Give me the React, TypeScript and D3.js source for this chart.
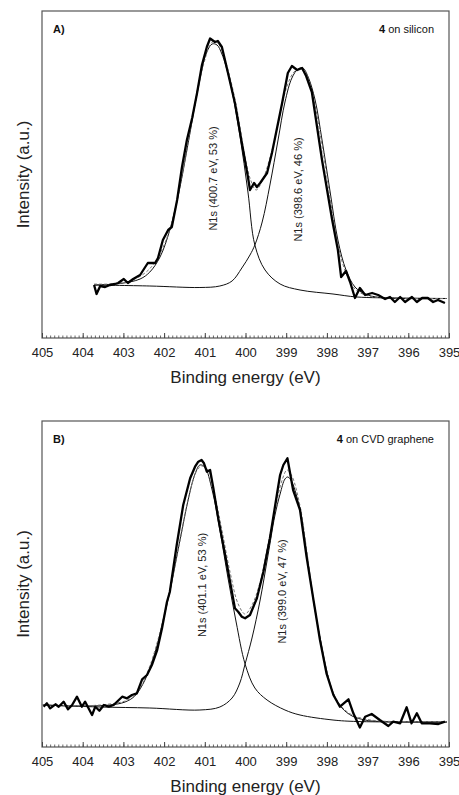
import { useEffect, useRef } from 'react'
import * as d3 from 'd3'

const W = 459
const H = 795

const ENERGY_TICKS = [405, 404, 403, 402, 401, 400, 399, 398, 397, 396, 395]

// Panel A: 4 on silicon  [binding energy eV, intensity counts]
const rawA: [number, number][] = [
  [403.72, 530], [403.66, 440], [403.57, 520], [403.45, 510], [403.33, 530], [403.21, 540],
  [403.13, 550], [402.99, 590], [402.89, 550], [402.76, 590], [402.59, 630], [402.40, 750],
  [402.22, 750], [402.15, 800], [402.03, 980], [401.90, 1080], [401.81, 1110], [401.68, 1380],
  [401.56, 1710], [401.44, 1980], [401.31, 2200], [401.19, 2450], [401.07, 2730], [400.95, 2910],
  [400.87, 2995], [400.75, 2960], [400.68, 2970], [400.58, 2910], [400.43, 2650], [400.26, 2350],
  [400.09, 1950], [399.94, 1610], [399.89, 1480], [399.79, 1550], [399.72, 1510], [399.64, 1550],
  [399.47, 1650], [399.35, 1850], [399.10, 2350], [398.96, 2650], [398.86, 2720], [398.73, 2680],
  [398.61, 2700], [398.51, 2620], [398.37, 2460], [398.12, 1780], [397.87, 1180], [397.73, 880],
  [397.65, 610], [397.53, 670], [397.43, 560], [397.31, 400], [397.19, 500], [397.06, 430],
  [396.89, 450], [396.74, 430], [396.57, 390], [396.45, 410], [396.33, 360], [396.20, 410],
  [396.08, 360], [395.91, 410], [395.79, 360], [395.66, 400], [395.52, 400], [395.39, 360],
  [395.27, 380], [395.10, 350],
]
const fitA1: [number, number][] = [
  [403.72, 530], [403.08, 545], [402.59, 590], [402.35, 660], [402.10, 810], [401.86, 1080],
  [401.61, 1510], [401.36, 2060], [401.12, 2600], [400.95, 2860], [400.82, 2940], [400.70, 2930],
  [400.58, 2840], [400.38, 2560], [400.14, 2030], [399.94, 1460], [399.77, 930], [399.52, 680],
  [399.15, 540], [398.66, 480], [397.85, 440], [397.26, 410], [396.20, 400], [395.05, 395],
]
const fitA2: [number, number][] = [
  [403.72, 530], [402.35, 520], [401.12, 505], [400.63, 520], [400.33, 570], [400.09, 700],
  [399.89, 830], [399.77, 930], [399.59, 1160], [399.40, 1530], [399.20, 1980], [399.03, 2360],
  [398.86, 2600], [398.71, 2690], [398.59, 2700], [398.46, 2610], [398.29, 2380], [398.12, 1980],
  [397.92, 1460], [397.73, 980], [397.53, 680], [397.31, 510], [397.06, 440], [396.70, 405],
  [395.05, 395],
]
const envA: [number, number][] = [
  [403.72, 540], [403.33, 540], [402.84, 570], [402.47, 650], [402.22, 760], [401.98, 950],
  [401.73, 1280], [401.49, 1780], [401.24, 2330], [401.04, 2720], [400.87, 2930], [400.77, 2970],
  [400.63, 2920], [400.43, 2680], [400.23, 2330], [400.04, 1880], [399.89, 1600], [399.74, 1480],
  [399.59, 1570], [399.40, 1800], [399.20, 2130], [399.01, 2480], [398.81, 2660], [398.66, 2690],
  [398.51, 2640], [398.32, 2380], [398.12, 1930], [397.92, 1400], [397.73, 930], [397.53, 650],
  [397.31, 490], [397.06, 430], [396.70, 405], [395.05, 395],
]

// Panel B: 4 on CVD graphene
const rawB: [number, number][] = [
  [404.96, 403], [404.88, 437], [404.80, 387], [404.67, 427], [404.59, 403], [404.47, 453],
  [404.36, 377], [404.26, 420], [404.14, 503], [404.02, 403], [403.94, 453], [403.77, 320],
  [403.69, 403], [403.59, 363], [403.48, 420], [403.36, 403], [403.24, 420], [403.03, 503],
  [402.91, 487], [402.79, 520], [402.67, 537], [402.54, 677], [402.42, 720], [402.30, 820],
  [402.17, 970], [402.05, 1190], [401.93, 1450], [401.86, 1550], [401.69, 2020], [401.53, 2420],
  [401.36, 2687], [401.24, 2803], [401.16, 2853], [401.08, 2870], [401.02, 2837], [400.95, 2753],
  [400.87, 2770], [400.79, 2587], [400.67, 2287], [400.50, 1920], [400.38, 1653], [400.26, 1387],
  [400.18, 1353], [400.09, 1303], [400.01, 1287], [399.89, 1320], [399.72, 1487], [399.56, 1753],
  [399.40, 2087], [399.23, 2520], [399.15, 2720], [399.07, 2820], [398.97, 2887], [398.83, 2570],
  [398.66, 2370], [398.50, 1903], [398.33, 1470], [398.17, 1070], [398.01, 737], [397.84, 520],
  [397.68, 403], [397.47, 477], [397.35, 337], [397.19, 195], [397.06, 303], [396.90, 330],
  [396.70, 270], [396.49, 210], [396.37, 253], [396.20, 237], [396.04, 397], [395.92, 237],
  [395.79, 337], [395.67, 237], [395.47, 237], [395.26, 230], [395.10, 253],
]
const fitB1: [number, number][] = [
  [404.98, 420], [404.07, 410], [403.33, 420], [402.96, 450], [402.72, 510], [402.47, 670],
  [402.22, 950], [402.05, 1220], [401.83, 1610], [401.61, 2070], [401.41, 2470], [401.24, 2730],
  [401.12, 2820], [401.00, 2800], [400.82, 2570], [400.63, 2170], [400.43, 1690], [400.23, 1250],
  [400.01, 830], [399.77, 590], [399.47, 470], [399.03, 370], [398.66, 320], [397.85, 270],
  [397.26, 255], [395.05, 250],
]
const fitB2: [number, number][] = [
  [404.98, 420], [403.57, 400], [402.35, 390], [401.12, 370], [400.63, 400], [400.33, 490],
  [400.14, 640], [400.01, 830], [399.84, 1090], [399.64, 1470], [399.45, 1910], [399.28, 2310],
  [399.15, 2530], [399.03, 2680], [398.96, 2700], [398.86, 2650], [398.66, 2370], [398.49, 1920],
  [398.34, 1490], [398.17, 1090], [398.00, 750], [397.83, 520], [397.63, 390], [397.38, 310],
  [397.06, 270], [396.70, 255], [395.05, 250],
]
const envB: [number, number][] = [
  [404.98, 420], [403.57, 420], [402.84, 480], [402.59, 590], [402.35, 810], [402.10, 1150],
  [401.86, 1570], [401.61, 2060], [401.36, 2560], [401.19, 2770], [401.07, 2810], [400.92, 2770],
  [400.75, 2510], [400.58, 2170], [400.38, 1750], [400.18, 1430], [400.01, 1330], [399.84, 1420],
  [399.64, 1650], [399.45, 2020], [399.25, 2420], [399.10, 2670], [398.98, 2770], [398.86, 2710],
  [398.66, 2410], [398.49, 1950], [398.34, 1500], [398.17, 1100], [398.00, 760], [397.83, 530],
  [397.63, 400], [397.38, 320], [397.06, 280], [396.70, 260], [395.05, 255],
]

// peak annotations: text, energy, intensity of label centre
const labelsA: [string, number, number][] = [
  ['N1s (400.7 eV, 53 %)', 400.8, 1595],
  ['N1s (398.6 eV, 46 %)', 398.71, 1485],
]
const labelsB: [string, number, number][] = [
  ['N1s (401.1 eV, 53 %)', 401.08, 1620],
  ['N1s (399.0 eV, 47 %)', 399.11, 1555],
]

const panels = [
  { tag: 'A)', sample: ' on silicon', top: 11, bottom: 338, yMax: 3270, raw: rawA, fit1: fitA1, fit2: fitA2, env: envA, labels: labelsA },
  { tag: 'B)', sample: ' on CVD graphene', top: 421, bottom: 747, yMax: 3260, raw: rawB, fit1: fitB1, fit2: fitB2, env: envB, labels: labelsB },
]

const FONT = 'Liberation Sans, Arial, Helvetica, sans-serif'

export default function App() {
  const svgRef = useRef<SVGSVGElement>(null)

  useEffect(() => {
    if (!svgRef.current) return
    const svg = d3.select(svgRef.current)
    svg.selectAll('*').remove()

    const left = 42
    const right = 449
    const x = d3.scaleLinear().domain([405, 395]).range([left, right])

    panels.forEach(p => {
      const y = d3.scaleLinear().domain([0, p.yMax]).range([p.bottom, p.top])
      const g = svg.append('g')

      const smooth = d3.line<[number, number]>()
        .x(d => x(d[0]))
        .y(d => y(d[1]))
        .curve(d3.curveCatmullRom.alpha(0.5))
      const jagged = d3.line<[number, number]>()
        .x(d => x(d[0]))
        .y(d => y(d[1]))

      // fitted components (thin)
      ;[p.fit1, p.fit2].forEach(f => {
        g.append('path')
          .attr('d', smooth(f))
          .attr('fill', 'none')
          .attr('stroke', '#111')
          .attr('stroke-width', 1)
      })

      // envelope (dashed)
      g.append('path')
        .attr('d', smooth(p.env))
        .attr('fill', 'none')
        .attr('stroke', '#777')
        .attr('stroke-width', 1)
        .attr('stroke-dasharray', '3,2')

      // raw spectrum (thick)
      g.append('path')
        .attr('d', jagged(p.raw))
        .attr('fill', 'none')
        .attr('stroke', '#000')
        .attr('stroke-width', 2.3)
        .attr('stroke-linejoin', 'round')

      // frame
      g.append('rect')
        .attr('x', left)
        .attr('y', p.top)
        .attr('width', right - left)
        .attr('height', p.bottom - p.top)
        .attr('fill', 'none')
        .attr('stroke', '#555')
        .attr('stroke-width', 1.2)

      // minor ticks every 0.1 eV
      const minor = d3.range(0, 101).map(i => 395 + i / 10)
      const minorAxis = d3.axisBottom(x).tickValues(minor).tickSize(-2.5).tickFormat(() => '')
      const gm = g.append('g').attr('transform', `translate(0,${p.bottom})`).call(minorAxis)
      gm.select('.domain').remove()
      gm.selectAll('line').attr('stroke', '#444').attr('stroke-width', 0.8)

      // major ticks
      const majorAxis = d3.axisBottom(x).tickValues(ENERGY_TICKS).tickSize(-5)
        .tickFormat(d => String(d))
      const ga = g.append('g').attr('transform', `translate(0,${p.bottom})`).call(majorAxis)
      ga.select('.domain').remove()
      ga.selectAll('line').attr('stroke', '#444').attr('stroke-width', 1)
      ga.selectAll('text')
        .attr('font-family', FONT)
        .attr('font-size', 13)
        .attr('fill', '#222')
        .attr('y', 10)

      // axis titles
      g.append('text')
        .attr('x', (left + right) / 2)
        .attr('y', p.bottom + 45)
        .attr('text-anchor', 'middle')
        .attr('font-family', FONT)
        .attr('font-size', 17)
        .attr('fill', '#222')
        .text('Binding energy (eV)')

      g.append('text')
        .attr('transform', `translate(23,${(p.top + p.bottom) / 2}) rotate(-90)`)
        .attr('text-anchor', 'middle')
        .attr('dominant-baseline', 'central')
        .attr('font-family', FONT)
        .attr('font-size', 17)
        .attr('fill', '#222')
        .text('Intensity (a.u.)')

      // panel tag and sample label
      g.append('text')
        .attr('x', 53)
        .attr('y', p.top + 22)
        .attr('font-family', FONT)
        .attr('font-size', 11)
        .attr('font-weight', 'bold')
        .attr('fill', '#111')
        .text(p.tag)

      const s = g.append('text')
        .attr('x', 434)
        .attr('y', p.top + 22)
        .attr('text-anchor', 'end')
        .attr('font-family', FONT)
        .attr('font-size', 11)
        .attr('fill', '#111')
      s.append('tspan').attr('font-weight', 'bold').text('4')
      s.append('tspan').text(p.sample)

      // peak labels
      p.labels.forEach(([t, e, i]) => {
        g.append('text')
          .attr('transform', `translate(${x(e)},${y(i)}) rotate(-90)`)
          .attr('text-anchor', 'middle')
          .attr('dominant-baseline', 'central')
          .attr('font-family', FONT)
          .attr('font-size', 11)
          .attr('fill', '#222')
          .text(t)
      })
    })
  }, [])

  return (
    <svg
      ref={svgRef}
      width={W}
      height={H}
      style={{ position: 'absolute', left: 0, top: 0, background: '#fff' }}
    />
  )
}
